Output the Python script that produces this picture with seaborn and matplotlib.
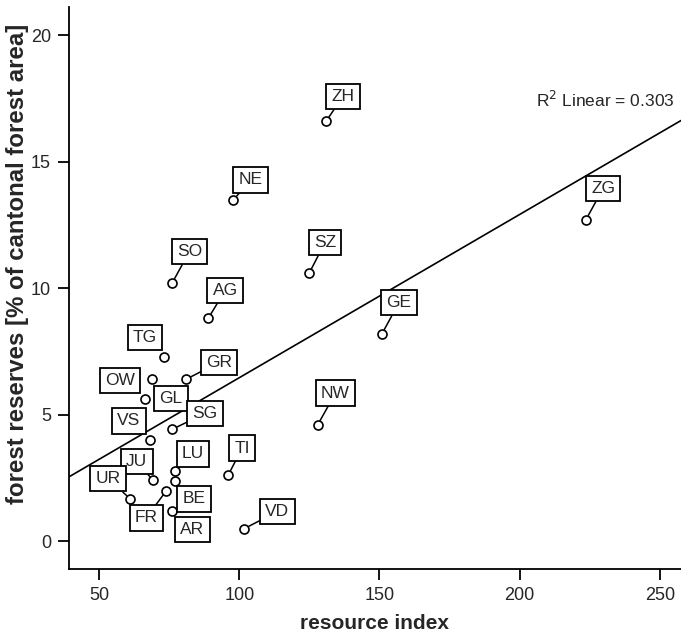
import numpy as np
import pandas as pd
import matplotlib
matplotlib.use("Agg")
import matplotlib.pyplot as plt
import seaborn as sns

# Кантони та значення
cantons = ["ZH", "NE", "SO", "SZ", "AG", "GE", "ZG", "NW", "TG", "OW", "GR",
           "GL", "SG", "VS", "LU", "BE", "JU", "TI", "UR", "FR", "AR", "VD"]
resource_index = [130.9, 97.9, 76.1, 124.9, 88.9, 150.9, 223.7, 127.9, 73.1, 68.9, 81.0,
                  66.3, 76.0, 68.1, 77.0, 77.0, 69.1, 96.0, 61.0, 73.9, 76.1, 101.8]
forest_reserves = [16.60, 13.50, 10.23, 10.60, 8.82, 8.21, 12.72, 4.60, 7.30, 6.41, 6.41,
                   5.62, 4.43, 4.01, 2.79, 2.39, 2.42, 2.62, 1.69, 2.00, 1.22, 0.51]

# Зсув підписів (пікселі) і чи малювати лінію-вказівник
label_dx = [17, 17, 17, 16, 17, 17, 17, 18, -19, -32, 33,
            26, 33, -21, 18, 19, -16, 14, -22, -20, 20, 33]
label_dy = [25, 20, 31, 31, 28, 31, 31, 32, 19, -1, 17,
            1, 16, 19, 17, -18, 19, 27, 20, -27, -19, 17]
leader = [True, True, True, True, True, True, True, True, False, False, True,
          False, True, False, True, False, True, True, True, True, False, True]

df = pd.DataFrame({"canton": cantons, "x": resource_index, "y": forest_reserves})

sns.set_style("ticks")
plt.rcParams["font.family"] = ["Liberation Sans", "DejaVu Sans"]

fig = plt.figure(figsize=(6.81, 6.36), dpi=100)
ax = fig.add_axes([0.1013, 0.1049, 0.8987, 0.8836])
ax.set_xlim(39.2, 257.6)
ax.set_ylim(-1.10, 21.11)

# Лінія регресії на всю ширину осі
sns.regplot(data=df, x="x", y="y", ax=ax, scatter=False, ci=None, truncate=False,
            line_kws={"color": "black", "linewidth": 1.2})

sns.scatterplot(data=df, x="x", y="y", ax=ax, s=42, facecolor="white",
                edgecolor="black", linewidth=1.2, zorder=4)

for i, row in df.iterrows():
    ax.annotate(row["canton"], (row["x"], row["y"]),
                xytext=(label_dx[i], label_dy[i]), textcoords="offset pixels",
                ha="center", va="center", fontsize=12.5, zorder=5,
                bbox=dict(boxstyle="square,pad=0.3", facecolor="white",
                          edgecolor="black", linewidth=1.3),
                arrowprops=dict(arrowstyle="-", color="black", lw=1.1,
                                shrinkA=0, shrinkB=3.5) if leader[i] else None)

# R² з даних
r = np.corrcoef(df["x"], df["y"])[0, 1]
ax.text(0.99, 0.835, f"R$^2$ Linear = {r**2:.3f}", transform=ax.transAxes,
        ha="right", va="center", fontsize=12.5)

ax.set_xticks([50, 100, 150, 200, 250])
ax.set_yticks([0, 5, 10, 15, 20])
ax.tick_params(axis="both", labelsize=13, length=8, width=1.3, pad=5, color="black")
for side in ["top", "right"]:
    ax.spines[side].set_visible(False)
for side in ["left", "bottom"]:
    ax.spines[side].set_linewidth(1.3)
    ax.spines[side].set_color("black")

ax.set_xlabel("resource index", fontsize=15, fontweight="bold", labelpad=7)
ax.set_ylabel("forest reserves [% of cantonal forest area]", fontsize=17.3,
              fontweight="bold")
ax.yaxis.set_label_coords(-0.066, 0.543)

fig.savefig("out.png", dpi=100)
